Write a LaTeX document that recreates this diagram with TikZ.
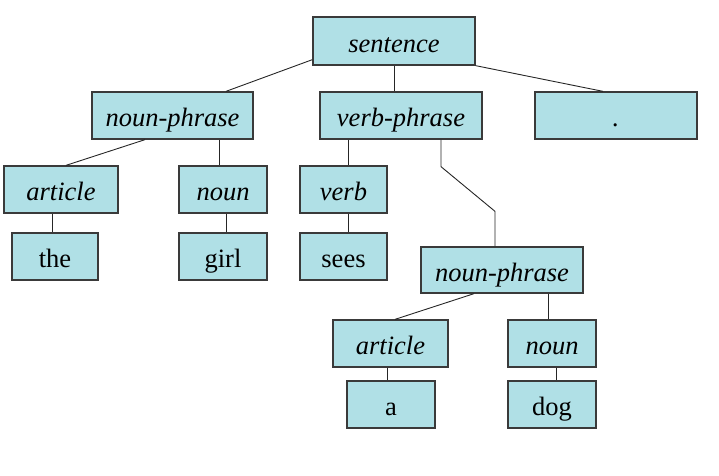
\documentclass[tikz,border=0pt]{standalone}
\usepackage{fontspec}
\setmainfont{Liberation Serif}
\usetikzlibrary{calc}
\definecolor{boxFill}{HTML}{B0E0E6}
\definecolor{boxLine}{HTML}{3A3A3A}

\begin{document}
\begin{tikzpicture}[x=1pt, y=-1pt,
    cat/.style={draw=boxLine, fill=boxFill, line width=1.3pt, inner sep=0pt,
                minimum height=47pt, text height=24pt, text depth=2pt,
                font=\fontsize{26.5}{30}\selectfont\itshape},
    word/.style={cat, font=\fontsize{26.5}{30}\selectfont},
    link/.style={draw=black!85, line width=0.9pt}]

    \useasboundingbox (0,0) rectangle (719,475);

    % ==========================================================
    % 1. BOXES (centres in pixels of the page)
    % ==========================================================
    \node[cat, minimum width=162pt, minimum height=48pt] (sentence) at (394, 41)    {sentence};

    \node[cat, minimum width=161pt] (np)     at (172.5, 115.5) {noun-phrase};
    \node[cat, minimum width=162pt] (vp)     at (401, 115.5)   {verb-phrase};
    \node[cat, minimum width=162pt] (stop)   at (616, 115.5)   {.};

    \node[cat, minimum width=114pt] (art)    at (61, 189.5)    {article};
    \node[cat, minimum width=88pt]  (noun)   at (223, 189.5)   {noun};
    \node[cat, minimum width=87pt]  (verb)   at (343.5, 189.5) {verb};

    \node[word, minimum width=86pt] (the)    at (55, 256.5)    {the};
    \node[word, minimum width=88pt] (girl)   at (223, 256.5)   {girl};
    \node[word, minimum width=87pt] (sees)   at (343.5, 256.5) {sees};

    \node[cat, minimum width=162pt, minimum height=46pt] (npB) at (502, 270) {noun-phrase};

    \node[cat, minimum width=115pt] (artB)   at (390.5, 343.5) {article};
    \node[cat, minimum width=88pt]  (nounB)  at (552, 343.5)   {noun};

    \node[word, minimum width=88pt] (a)      at (391, 404.5)   {a};
    \node[word, minimum width=88pt] (dog)    at (552, 404.5)   {dog};

    % ==========================================================
    % 2. FOOT POINTS OF THE VERTICAL LINKS
    % ==========================================================
    \coordinate (sTop)   at (sentence.south);
    \coordinate (npR)    at ($(np.south)+(46.5,0)$);
    \coordinate (vpL)    at ($(vp.south)+(-53,0)$);
    \coordinate (vpR)    at ($(vp.south)+(40,0)$);
    \coordinate (artF)   at ($(art.south)+(-9,0)$);
    \coordinate (nounF)  at ($(noun.south)+(3,0)$);
    \coordinate (verbF)  at ($(verb.south)+(4.5,0)$);
    \coordinate (npBR)   at ($(npB.south)+(46,0)$);
    \coordinate (artBF)  at ($(artB.south)+(-3.5,0)$);
    \coordinate (nounBF) at ($(nounB.south)+(4,0)$);

    % ==========================================================
    % 3. LINKS
    % ==========================================================
    \draw[link] ($(sentence.south west)+(0,-6)$) -- ($(np.north)+(53.5,0)$);
    \draw[link] (sTop) -- (sTop |- vp.north);
    \draw[link] (sentence.south east) -- ($(stop.north)+(-13,0)$);

    \draw[link] ($(np.south)+(-27.5,0)$) -- ($(art.north)+(5,0)$);
    \draw[link] (npR) -- (npR |- noun.north);
    \draw[link] (vpL) -- (vpL |- verb.north);
    \draw[link] (vpR) -- ++(0,27) -- ($(npB.north)+(-7,-35)$) -- ($(npB.north)+(-7,0)$);

    \draw[link] (artF) -- (artF |- the.north);
    \draw[link] (nounF) -- (nounF |- girl.north);
    \draw[link] (verbF) -- (verbF |- sees.north);

    \draw[link] ($(npB.south)+(-28,0)$) -- ($(artB.north)+(4.5,0)$);
    \draw[link] (npBR) -- (npBR |- nounB.north);
    \draw[link] (artBF) -- (artBF |- a.north);
    \draw[link] (nounBF) -- (nounBF |- dog.north);

\end{tikzpicture}
\end{document}
